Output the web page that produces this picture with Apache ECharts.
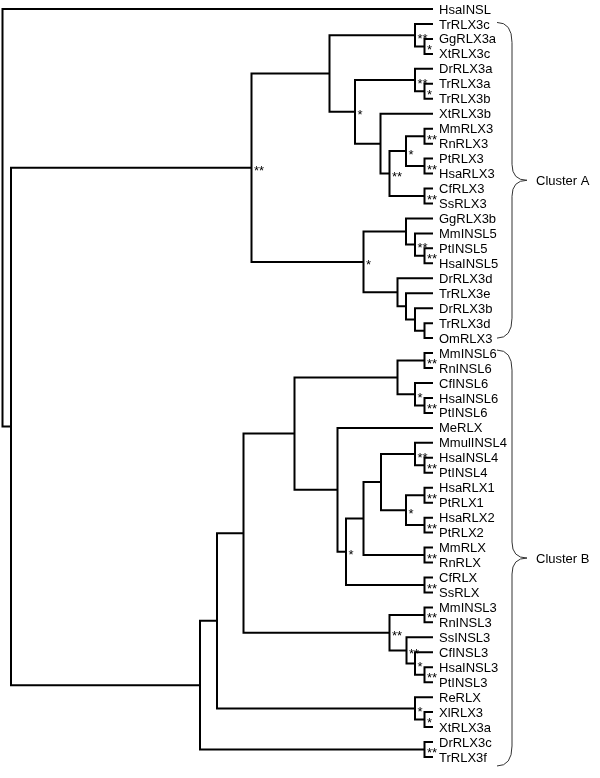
<!DOCTYPE html>
<html><head><meta charset="utf-8">
<script src="https://cdn.jsdelivr.net/npm/echarts@6/dist/echarts.min.js"></script>
<style>html,body{margin:0;padding:0;background:#fff}#c{width:600px;height:778px}</style>
</head><body><div id="c"></div>
<script>
// Tree topology: internal node = (children)support@depth ; leaves = names (depth = leafDepth)
const treeNewick = `(HsaINSL,
 (((
   (TrRLX3c,(GgRLX3a,XtRLX3c)*@422)**@412.5,
   ((DrRLX3a,(TrRLX3a,TrRLX3b)*@422)**@412.5,
    (XtRLX3b,
     (((MmRLX3,RnRLX3)**@422,(PtRLX3,HsaRLX3)**@422)*@403.5,
      (CfRLX3,SsRLX3)**@422)**@387
    )@378
   )*@352.5
  )@327,
  ((GgRLX3b,(MmINSL5,(PtINSL5,HsaINSL5)**@422)**@412.5)@403.5,
   (DrRLX3d,(TrRLX3e,(DrRLX3b,(TrRLX3d,OmRLX3)@422)@412.5)@403.5)@395
  )*@361
 )**@249,
 ((((
     ((MmINSL6,RnINSL6)**@422,(CfINSL6,(HsaINSL6,PtINSL6)**@422)*@412.5)@395,
     (MeRLX,
      ((((MmulINSL4,(HsaINSL4,PtINSL4)**@422)**@412.5,
         ((HsaRLX1,PtRLX1)**@422,(HsaRLX2,PtRLX2)**@422)*@403.5)@378.5,
        (MmRLX,RnRLX)**@422)@361,
       (CfRLX,SsRLX)**@422)*@343.5
     )@335
    )@292,
    ((MmINSL3,RnINSL3)**@422,(SsINSL3,(CfINSL3,(HsaINSL3,PtINSL3)**@422)*@412.5)**@404)**@387
   )@241,
   (ReRLX,(XlRLX3,XtRLX3a)*@422)*@412.5
  )@214.5,
  (DrRLX3c,TrRLX3f)**@422
 )@197.5
 )@8.5
)@0`;
const leafDepth = 430.5;
const clusterNames = ['Cluster A', 'Cluster B'];
const clusterFrom = [0.9, 22.8];
const clusterTo = [22, 50.6];

function parseNewick(str) {
  const s = str.replace(/\s+/g, '');
  let i = 0;
  function node() {
    const n = { children: [] };
    if (s[i] === '(') {
      i++;
      n.children.push(node());
      while (s[i] === ',') { i++; n.children.push(node()); }
      i++;
      let lab = '';
      while (s[i] === '*') { lab += '*'; i++; }
      n.support = lab;
      if (s[i] === '@') {
        i++; let num = '';
        while (i < s.length && /[0-9.]/.test(s[i])) { num += s[i]; i++; }
        n.depth = parseFloat(num);
      }
    } else {
      let name = '';
      while (i < s.length && !/[,()]/.test(s[i])) { name += s[i]; i++; }
      n.name = name; n.depth = leafDepth;
    }
    return n;
  }
  return node();
}
const root = parseNewick(treeNewick);
const leaves = [], internals = [];
(function layout(n) {
  if (!n.children.length) { n.y = leaves.length; leaves.push(n); return; }
  n.children.forEach(layout);
  n.y = (n.children[0].y + n.children[n.children.length - 1].y) / 2;
  internals.push(n);
})(root);
const supports = internals.filter(n => n.support);

const chart = echarts.init(document.getElementById('c'), null, { renderer: 'canvas' });
const FONT = '"Liberation Sans", Arial, Helvetica, sans-serif';
chart.setOption({
  animation: false,
  backgroundColor: '#fff',
  grid: { left: 2.5, right: 0, top: 9, bottom: 21, containLabel: false },
  xAxis: { type: 'value', min: 0, max: 597.5, show: false },
  yAxis: { type: 'value', min: 0, max: 50, inverse: true, show: false },
  series: [
    {
      type: 'custom', silent: true,
      data: internals.map(n => [n.depth, n.y]),
      renderItem: function (params, api) {
        const n = internals[params.dataIndex];
        const c = n.children, a = c[0], b = c[c.length - 1];
        const kids = [{
          type: 'polyline',
          shape: { points: [api.coord([a.depth, a.y]), api.coord([n.depth, a.y]), api.coord([n.depth, b.y]), api.coord([b.depth, b.y])] },
          style: { stroke: '#000', lineWidth: 2, fill: null, lineJoin: 'miter' }
        }];
        for (let k = 1; k < c.length - 1; k++) {
          const p1 = api.coord([n.depth, c[k].y]), p2 = api.coord([c[k].depth, c[k].y]);
          kids.push({ type: 'line', shape: { x1: p1[0], y1: p1[1], x2: p2[0], y2: p2[1] }, style: { stroke: '#000', lineWidth: 2 } });
        }
        return { type: 'group', children: kids };
      }
    },
    {
      type: 'custom', silent: true,
      data: leaves.map(n => [n.depth, n.y]),
      renderItem: function (params, api) {
        const n = leaves[params.dataIndex];
        const p = api.coord([n.depth, n.y]);
        return { type: 'text', x: p[0] + 6, y: p[1] + 1,
          style: { text: n.name, fill: '#000', fontSize: 13, fontFamily: FONT, align: 'left', verticalAlign: 'middle' } };
      }
    },
    {
      type: 'custom', silent: true,
      data: supports.map(n => [n.depth, n.y]),
      renderItem: function (params, api) {
        const n = supports[params.dataIndex];
        const p = api.coord([n.depth, n.y]);
        return { type: 'text', x: p[0] + 2.5, y: p[1] + 4,
          style: { text: n.support, fill: '#000', fontSize: 13, fontFamily: FONT, align: 'left', verticalAlign: 'middle' } };
      }
    },
    {
      type: 'custom', silent: true,
      data: clusterNames.map((name, i) => [leafDepth, (clusterFrom[i] + clusterTo[i]) / 2]),
      renderItem: function (params, api) {
        const i = params.dataIndex;
        const t = api.coord([leafDepth, clusterFrom[i]]);
        const b = api.coord([leafDepth, clusterTo[i]]);
        const x0 = t[0] + 64, xv = t[0] + 79, xt = t[0] + 94;
        const yT = t[1], yB = b[1], yM = (yT + yB) / 2;
        const d = `M${x0} ${yT} Q${xv} ${yT} ${xv} ${yT + 20} L${xv} ${yM - 16} Q${xv} ${yM} ${xt} ${yM} Q${xv} ${yM} ${xv} ${yM + 16} L${xv} ${yB - 20} Q${xv} ${yB} ${x0} ${yB}`;
        return { type: 'group', children: [
          { type: 'path', shape: { pathData: d }, style: { stroke: '#333', lineWidth: 1, fill: null } },
          { type: 'text', x: xt + 9, y: yM + 1, style: { text: clusterNames[i], fill: '#000', fontSize: 13, fontFamily: FONT, align: 'left', verticalAlign: 'middle' } }
        ] };
      }
    }
  ]
});
</script>
</body></html>
